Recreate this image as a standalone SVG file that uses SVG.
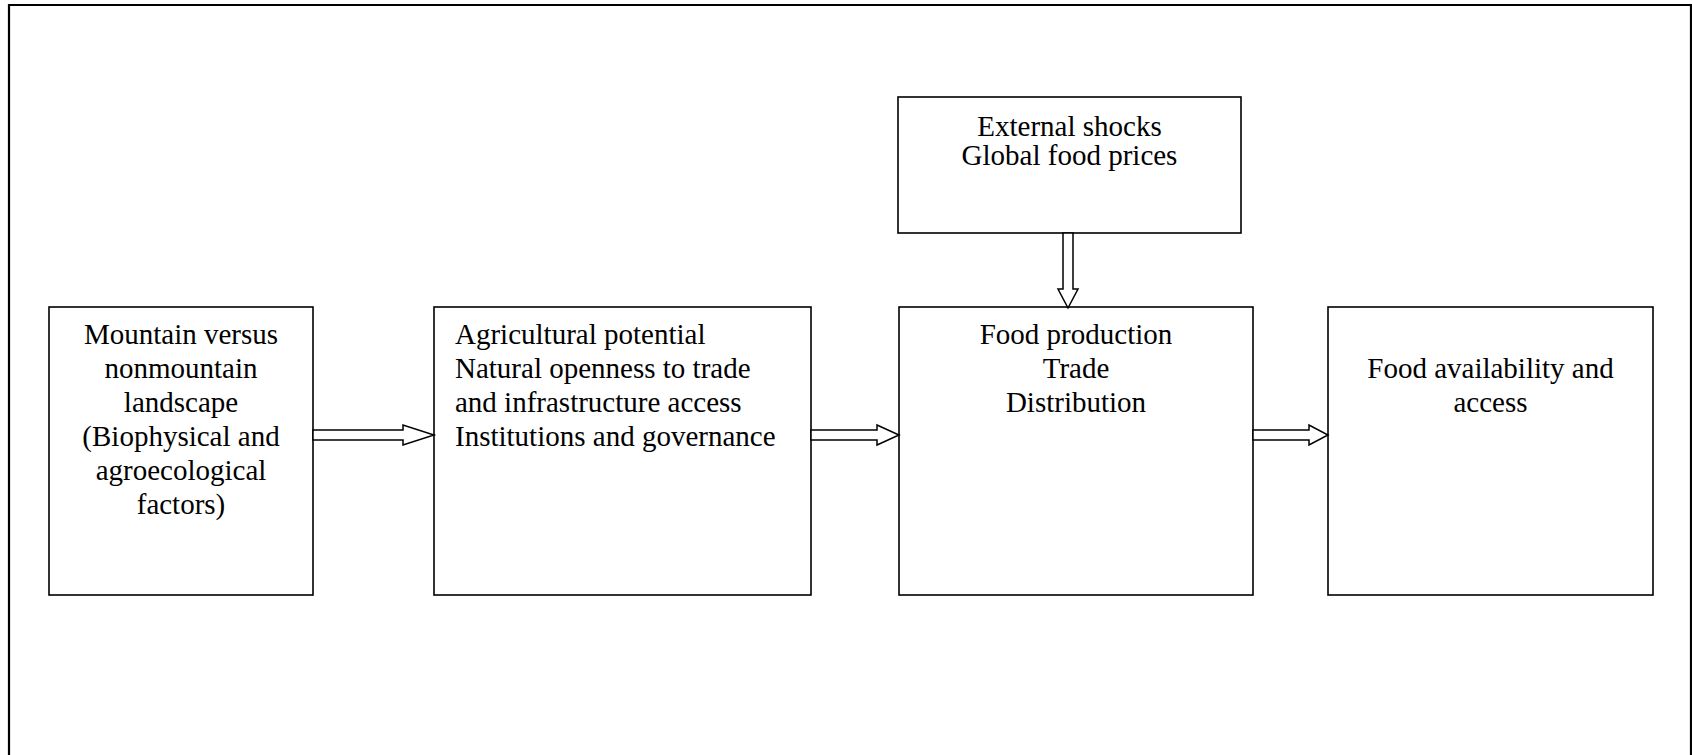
<svg xmlns="http://www.w3.org/2000/svg" width="1692" height="755" viewBox="0 0 1692 755">
<style>
.box{fill:#fff;stroke:#000;stroke-width:1.6}
.t{font-family:"Liberation Serif","Times New Roman",serif;font-size:29px;fill:#000}
.c{text-anchor:middle}
.arr{fill:#fff;stroke:#000;stroke-width:1.5;stroke-linejoin:miter}
</style>
<rect x="0" y="0" width="1692" height="755" fill="#fff"/>
<path d="M9,760 V5 H1691 V760" fill="none" stroke="#000" stroke-width="2.2"/>
<g id="node-mountain">
<rect class="box" x="49" y="307" width="264" height="288"/>
<text class="t c" x="181"><tspan x="181" y="344">Mountain versus</tspan><tspan x="181" y="378">nonmountain</tspan><tspan x="181" y="412">landscape</tspan><tspan x="181" y="446">(Biophysical and</tspan><tspan x="181" y="480">agroecological</tspan><tspan x="181" y="514">factors)</tspan></text>
</g>
<g id="node-agri">
<rect class="box" x="434" y="307" width="377" height="288"/>
<text class="t"><tspan x="455" y="344">Agricultural potential</tspan><tspan x="455" y="378">Natural openness to trade</tspan><tspan x="455" y="412">and infrastructure access</tspan><tspan x="455" y="446">Institutions and governance</tspan></text>
</g>
<g id="node-shocks">
<rect class="box" x="898" y="97" width="343" height="136"/>
<text class="t c"><tspan x="1069.5" y="136">External shocks</tspan><tspan x="1069.5" y="165">Global food prices</tspan></text>
</g>
<g id="node-food">
<rect class="box" x="899" y="307" width="354" height="288"/>
<text class="t c"><tspan x="1076" y="344">Food production</tspan><tspan x="1076" y="378">Trade</tspan><tspan x="1076" y="412">Distribution</tspan></text>
</g>
<g id="node-access">
<rect class="box" x="1328" y="307" width="325" height="288"/>
<text class="t c"><tspan x="1490.5" y="378">Food availability and</tspan><tspan x="1490.5" y="412">access</tspan></text>
</g>
<g id="connectors">
<polygon class="arr" points="313,430 403,430 403,425 434,435 403,445 403,440 313,440"/>
<polygon class="arr" points="811,430 877,430 877,425 899,435 877,445 877,440 811,440"/>
<polygon class="arr" points="1253,430 1309,430 1309,425 1328,435 1309,445 1309,440 1253,440"/>
<polygon class="arr" points="1063,233 1073,233 1073,289 1078,289 1068,308 1058,289 1063,289"/>
</g>
</svg>
